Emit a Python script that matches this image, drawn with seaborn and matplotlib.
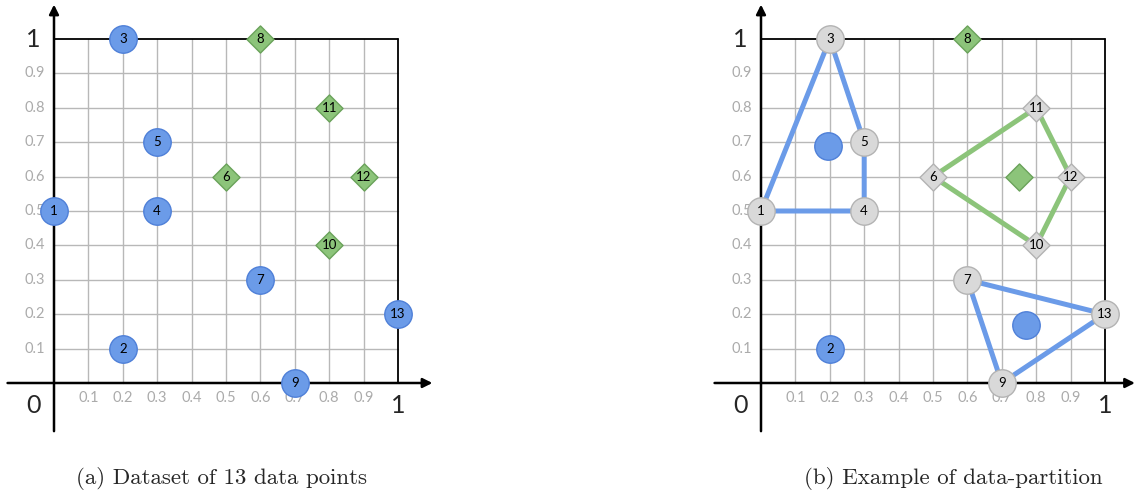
import numpy as np
import pandas as pd
import matplotlib
matplotlib.use("Agg")
import matplotlib.pyplot as plt
import seaborn as sns

# 13 data points
point_ids = [1, 2, 3, 4, 5, 6, 7, 8, 9, 10, 11, 12, 13]
point_x = [0.0, 0.2, 0.2, 0.3, 0.3, 0.5, 0.6, 0.6, 0.7, 0.8, 0.8, 0.9, 1.0]
point_y = [0.5, 0.1, 1.0, 0.5, 0.7, 0.6, 0.3, 1.0, 0.0, 0.4, 0.8, 0.6, 0.2]
point_class = ["circle", "circle", "circle", "circle", "circle", "diamond", "circle",
               "diamond", "circle", "diamond", "diamond", "diamond", "circle"]

# partition of (b): polygons through member points, and their centres
part_a = [1, 3, 5, 4, 1]
part_b = [6, 11, 12, 10, 6]
part_c = [7, 13, 9, 7]
members = [1, 3, 4, 5, 6, 7, 9, 10, 11, 12, 13]
centre_x = [0.195, 0.75, 0.77]
centre_y = [0.69, 0.60, 0.17]
centre_class = ["circle", "diamond", "circle"]

grid_ticks = [0.1, 0.2, 0.3, 0.4, 0.5, 0.6, 0.7, 0.8, 0.9]
tick_labels = ["0.1", "0.2", "0.3", "0.4", "0.5", "0.6", "0.7", "0.8", "0.9"]
captions = ["(a) Dataset of 13 data points", "(b) Example of data-partition"]

BLUE = "#6b9be8"
BLUE_EDGE = "#4f80d8"
GREEN = "#8cc47a"
GREEN_EDGE = "#6aa25a"
GREY = "#d9d9d9"
GREY_EDGE = "#b3b3b3"

sns.set_style("white")
plt.rcParams["font.family"] = ["Lato", "DejaVu Sans"]

df = pd.DataFrame({"id": point_ids, "x": point_x, "y": point_y, "cls": point_class})
centres = pd.DataFrame({"x": centre_x, "y": centre_y, "cls": centre_class})

W, H = 1135, 496
fig = plt.figure(figsize=(W / 100, H / 100), dpi=100)
unit = 344.0


def make_axes(origin_px, xlim):
    left = origin_px + xlim[0] * unit
    width = (xlim[1] - xlim[0]) * unit
    ylim = (-0.166, 1.113)
    bottom = 383 + 0.166 * unit
    height = (ylim[1] - ylim[0]) * unit
    ax = fig.add_axes([left / W, (H - bottom) / H, width / W, height / H])
    ax.set_xlim(*xlim)
    ax.set_ylim(*ylim)
    ax.axis("off")
    return ax


def draw_frame(ax, x_end):
    for t in grid_ticks:
        ax.plot([t, t], [0, 1], color="#b8b8b8", lw=1.0, zorder=1)
        ax.plot([0, 1], [t, t], color="#b8b8b8", lw=1.0, zorder=1)
    ax.plot([0, 1], [1, 1], color="black", lw=1.3, zorder=1)
    ax.plot([1, 1], [0, 1], color="black", lw=1.3, zorder=1)
    ax.annotate("", xy=(x_end, 0), xytext=(-0.135, 0),
                arrowprops=dict(arrowstyle="-|>", color="black", lw=1.8,
                                mutation_scale=14, shrinkA=0, shrinkB=0), zorder=2)
    ax.annotate("", xy=(0, 1.10), xytext=(0, -0.14),
                arrowprops=dict(arrowstyle="-|>", color="black", lw=1.8,
                                mutation_scale=14, shrinkA=0, shrinkB=0), zorder=2)
    for t, lab in zip(grid_ticks, tick_labels):
        ax.text(t, -0.045, lab, ha="center", va="center", fontsize=10.5, color="#ababab")
        ax.text(-0.055, t, lab, ha="center", va="center", fontsize=10.5, color="#ababab")
    ax.text(-0.06, 1.0, "1", ha="center", va="center", fontsize=18)
    ax.text(-0.06, -0.065, "0", ha="center", va="center", fontsize=18)
    ax.text(1.0, -0.065, "1", ha="center", va="center", fontsize=18)


def draw_points(ax, data, colors, edges, labels=True):
    circ = data[data["cls"] == "circle"]
    diam = data[data["cls"] == "diamond"]
    if len(circ):
        sns.scatterplot(data=circ, x="x", y="y", marker="o", s=390, color=colors[0],
                        edgecolor=edges[0], linewidth=1.0, ax=ax, zorder=4, legend=False)
    if len(diam):
        sns.scatterplot(data=diam, x="x", y="y", marker="D", s=190, color=colors[1],
                        edgecolor=edges[1], linewidth=1.0, ax=ax, zorder=4, legend=False)
    if labels:
        for _, r in data.iterrows():
            ax.text(r["x"], r["y"], str(r["id"]), ha="center", va="center",
                    fontsize=9.5, color="black", zorder=5)


# (a)
ax1 = make_axes(54, (-0.157, 1.18))
draw_frame(ax1, 1.10)
draw_points(ax1, df, (BLUE, GREEN), (BLUE_EDGE, GREEN_EDGE))
ax1.set_xlim(-0.157, 1.18)
ax1.set_ylim(-0.166, 1.113)

# (b)
ax2 = make_axes(761, (-0.16, 1.09))
draw_frame(ax2, 1.087)
pos = df.set_index("id")
for poly, col in [(part_a, BLUE), (part_b, GREEN), (part_c, BLUE)]:
    ax2.plot(pos.loc[poly, "x"], pos.loc[poly, "y"], color=col, lw=3.6,
             solid_capstyle="round", zorder=3)
in_part = df[df["id"].isin(members)]
out_part = df[~df["id"].isin(members)]
draw_points(ax2, out_part, (BLUE, GREEN), (BLUE_EDGE, GREEN_EDGE))
draw_points(ax2, in_part, (GREY, GREY), (GREY_EDGE, GREY_EDGE))
centres["id"] = ""
draw_points(ax2, centres, (BLUE, GREEN), (BLUE_EDGE, GREEN_EDGE), labels=False)
ax2.set_xlim(-0.16, 1.09)
ax2.set_ylim(-0.166, 1.113)

fig.text(222 / W, 1 - 479 / H, captions[0], ha="center", va="center",
         fontsize=16.5, family=["cmr10", "DejaVu Serif"])
fig.text(953 / W, 1 - 479 / H, captions[1], ha="center", va="center",
         fontsize=16.5, family=["cmr10", "DejaVu Serif"])

fig.savefig("out.png", dpi=100)
